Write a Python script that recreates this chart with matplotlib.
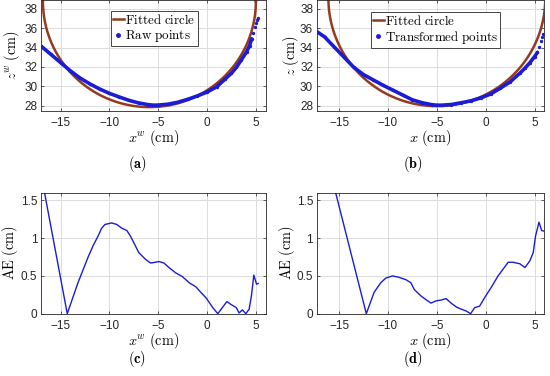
import numpy as np
import matplotlib
matplotlib.use("Agg")
import matplotlib.pyplot as plt
from matplotlib.lines import Line2D

plt.rcParams['font.family'] = ['Liberation Sans', 'DejaVu Sans']
plt.rcParams['mathtext.fontset'] = 'cm'

# ---------------- data ----------------
# (a) raw points
xa_pts = [-17.0, -16.0, -15.0, -14.0, -13.0, -12.0, -11.0, -10.0, -9.0, -8.0, -7.0, -6.0,
          -5.5, -5.0, -4.0, -3.0, -2.0, -1.0, 0.0, 1.0, 1.8, 2.5, 3.0, 3.5, 4.05, 4.35,
          4.57, 4.73, 4.9, 5.0, 5.08, 5.18]
za_pts = [34.15, 33.3, 32.45, 31.6, 30.85, 30.25, 29.72, 29.27, 28.9, 28.55, 28.28, 28.1,
          28.05, 28.06, 28.15, 28.35, 28.65, 29.0, 29.4, 29.95, 30.7, 31.35, 31.95, 32.7, 33.56, 34.2,
          34.9, 35.46, 36.14, 36.5, 36.8, 37.0]
# (a) fitted circle: centre x, centre z, radius
circle_a = (-5.9, 38.75, 10.9)

# (b) transformed points
xb_pts = [-17.3, -16.5, -15.5, -14.5, -13.5, -12.5, -11.5, -10.5, -9.5, -8.5, -7.5, -6.5,
          -5.5, -5.0, -4.5, -3.5, -2.5, -1.5, -0.5, 0.5, 1.5, 2.5, 3.5, 4.0, 4.5, 5.0, 5.3,
          5.5, 5.7, 5.8, 5.9]
zb_pts = [35.65, 35.1, 34.05, 33.0, 31.95, 31.2, 30.65, 30.1, 29.6, 29.1, 28.6, 28.3,
          28.1, 28.05, 28.05, 28.12, 28.3, 28.5, 28.8, 29.2, 29.8, 30.45, 31.35, 31.85, 32.4, 33.05, 33.5,
          34.1, 34.7, 35.1, 35.4]
circle_b = (-5.0, 39.05, 11.1)

# (c) absolute error vs x^w
xc = [-17.0, -16.65, -14.31, -13.21, -12.17, -11.66, -11.14, -10.79, -10.45, -9.76, -9.24, -8.72,
      -8.21, -7.86, -7.52, -7.0, -6.31, -5.79, -5.28, -4.93, -4.41, -3.9, -3.21, -2.52, -1.83,
      -1.14, -0.62, -0.1, 0.59, 1.1, 1.45, 2.03, 2.48, 3.0, 3.28, 3.62, 3.97, 4.31, 4.55, 4.79,
      5.07, 5.24]
ec = [1.85, 1.61, 0.0, 0.41, 0.75, 0.90, 1.03, 1.13, 1.18, 1.20, 1.18, 1.13,
      1.10, 1.03, 0.945, 0.81, 0.72, 0.67, 0.68, 0.69, 0.67, 0.61, 0.54, 0.49, 0.41,
      0.355, 0.28, 0.21, 0.08, 0.0, 0.06, 0.16, 0.12, 0.08, 0.01, 0.05, 0.0, 0.06, 0.24, 0.51,
      0.39, 0.40]

# (d) absolute error vs x
xd = [-16.5, -15.38, -12.22, -11.43, -10.74, -10.23, -9.54, -8.86, -8.17, -7.66, -7.31, -6.63,
      -5.94, -5.6, -5.08, -4.57, -4.05, -3.54, -3.02, -2.51, -1.99, -1.54, -1.13, -0.62, 0.0,
      0.58, 1.27, 1.79, 2.3, 2.81, 3.5, 4.02, 4.53, 4.87, 5.11, 5.46, 5.73, 6.0]
ed = [2.2, 1.61, 0.0, 0.28, 0.41, 0.47, 0.50, 0.48, 0.45, 0.41, 0.32, 0.235,
      0.17, 0.14, 0.17, 0.18, 0.20, 0.14, 0.09, 0.06, 0.035, 0.0, 0.08, 0.10, 0.235,
      0.35, 0.50, 0.59, 0.68, 0.68, 0.66, 0.61, 0.70, 0.81, 1.03, 1.21, 1.10, 1.09]

xticks = [-15, -10, -5, 0, 5]
yticks_top = [28, 30, 32, 34, 36, 38]
yticks_bot = [0, 0.5, 1, 1.5]
ytick_bot_labels = ['0', '0.5', '1', '1.5']

# ---------------- style ----------------
BLUE = '#1c1cd6'
BROWN = '#953a1c'
AXC = '#262626'
TICKFS = 8.5
LABFS = 10.3
LEGFS = 9.4

fig = plt.figure(figsize=(5.5, 3.76), dpi=100)

def style(ax):
    ax.grid(True, color='#dcdcdc', linewidth=0.7)
    ax.set_axisbelow(True)
    for s in ax.spines.values():
        s.set_color(AXC)
        s.set_linewidth(0.6)
    ax.tick_params(direction='in', length=2.5, width=0.5, colors=AXC, labelsize=TICKFS,
                   top=True, right=True)
    ax.tick_params(axis='x', pad=4.4)
    ax.tick_params(axis='y', pad=2.6)
    ax.set_xticks(xticks)
    ax.set_xticklabels(['\u221215', '\u221210', '\u22125', '0', '5'])

axa = fig.add_axes([0.0745, 0.7048, 0.4085, 0.2952])
axb = fig.add_axes([0.5758, 0.7048, 0.4138, 0.2952])
axc = fig.add_axes([0.0745, 0.1657, 0.4085, 0.3218])
axd = fig.add_axes([0.5758, 0.1657, 0.4138, 0.3218])

t = np.linspace(0, 2 * np.pi, 721)

for ax, xp, zp, circ, xlim, tail, lab, xl, yl, ylx in [
        (axa, xa_pts, za_pts, circle_a, (-17, 6), 4.6, 'Raw points',
         r'$x^w\ \mathrm{(cm)}$', r'$z^w\ \mathrm{(cm)}$', -0.131),
        (axb, xb_pts, zb_pts, circle_b, (-17.3, 6), 5.35, 'Transformed points',
         r'$x\ \mathrm{(cm)}$', r'$z\ \mathrm{(cm)}$', -0.114)]:
    style(ax)
    cx, cz, r = circ
    xp = np.asarray(xp); zp = np.asarray(zp)
    ax.plot(cx + r * np.cos(t), cz + r * np.sin(t), color=BROWN, lw=1.8, zorder=2)
    m = xp <= tail
    ax.plot(xp[m], zp[m], color=BLUE, lw=2.6, solid_capstyle='round', zorder=3)
    ax.plot(xp, zp, '.', color=BLUE, ms=2.8, zorder=3)
    ax.set_xlim(*xlim)
    ax.set_ylim(27.45, 38.9)
    ax.set_yticks(yticks_top)
    ax.set_xlabel(xl, fontsize=LABFS, va='center')
    ax.xaxis.set_label_coords(0.5, -0.243)
    ax.set_ylabel(yl, fontsize=LABFS, va='center')
    ax.yaxis.set_label_coords(ylx, 0.5)
    handles = [Line2D([], [], color=BROWN, lw=1.8),
               Line2D([], [], color=BLUE, marker='.', ms=5, lw=0)]
    labels = [r'$\mathrm{Fitted\ circle}$', r'$\mathrm{' + lab.replace(' ', r'\ ') + '}$']
    anchor = (0.311, 0.90) if ax is axa else (0.237, 0.895)
    leg = ax.legend(handles, labels, loc='upper left', bbox_to_anchor=anchor,
                    fontsize=LEGFS, frameon=True, fancybox=False, borderaxespad=0,
                    handlelength=0.85, handletextpad=0.1, borderpad=0.15,
                    labelspacing=0.1, framealpha=1)
    leg.get_frame().set_edgecolor(AXC)
    leg.get_frame().set_linewidth(0.6)

for ax, x, e, xlim, xl, ylx in [(axc, xc, ec, (-17, 6), r'$x^w\ \mathrm{(cm)}$', -0.136),
                               (axd, xd, ed, (-17.3, 6), r'$x\ \mathrm{(cm)}$', -0.130)]:
    style(ax)
    ax.plot(x, e, color=BLUE, lw=1.0)
    ax.set_xlim(*xlim)
    ax.set_ylim(0, 1.6)
    ax.set_yticks(yticks_bot)
    ax.set_yticklabels(ytick_bot_labels)
    ax.set_xlabel(xl, fontsize=LABFS, va='center')
    ax.xaxis.set_label_coords(0.5, -0.226)
    ax.set_ylabel(r'$\mathrm{AE\ (cm)}$', fontsize=LABFS, va='center')
    ax.yaxis.set_label_coords(ylx, 0.5)

for xf, yf, s in [(0.25, 0.564, '(a)'), (0.75, 0.564, '(b)'),
                  (0.25, 0.045, '(c)'), (0.75, 0.045, '(d)')]:
    fig.text(xf, yf, r'$\mathbf{' + s + '}$', ha='center', va='center', fontsize=10.3)

fig.savefig('out.png', dpi=100)
